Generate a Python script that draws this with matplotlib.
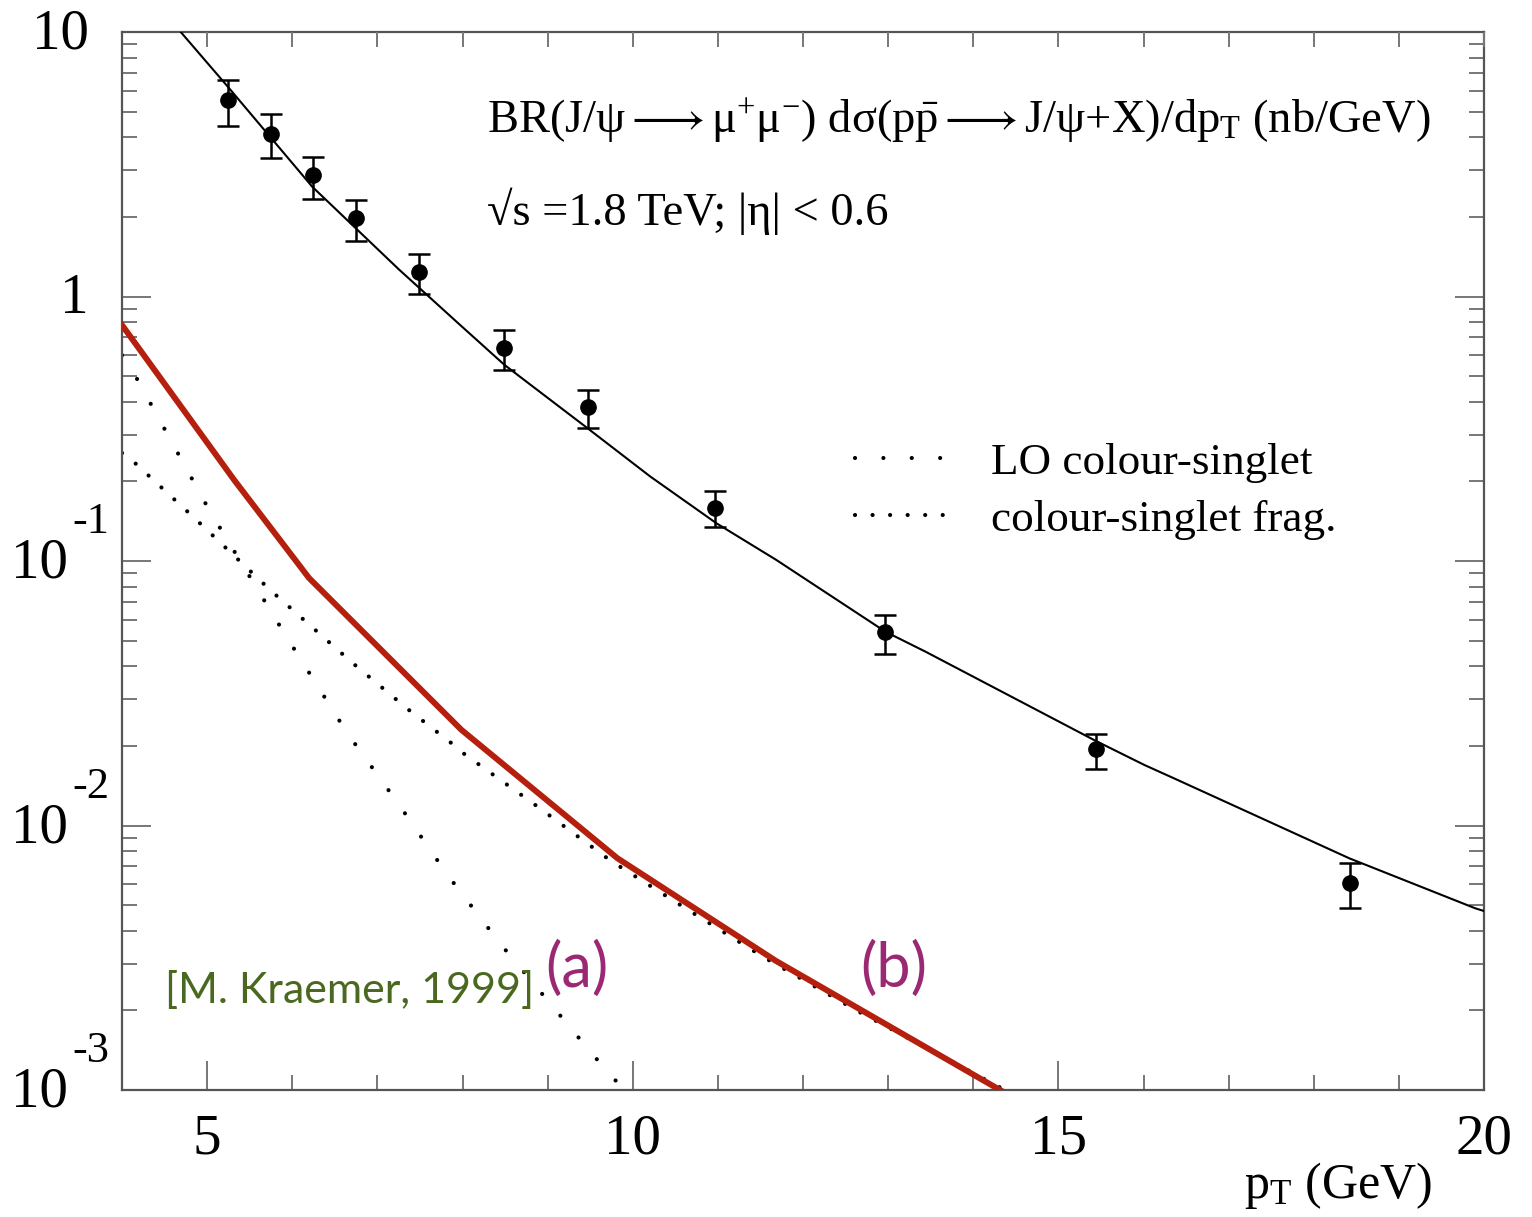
import numpy as np
import matplotlib
matplotlib.use("Agg")
import matplotlib.pyplot as plt

plt.rcParams['font.family'] = ['Liberation Serif', 'DejaVu Serif']
plt.rcParams['mathtext.fontset'] = 'custom'
plt.rcParams['mathtext.rm'] = 'Liberation Serif'
plt.rcParams['mathtext.it'] = 'Liberation Serif:italic'

# ---- data ----
data_pt = [5.25, 5.75, 6.24, 6.75, 7.49, 8.49, 9.48, 10.97, 12.96, 15.44, 18.43]
data_y = [5.53, 4.11, 2.88, 1.98, 1.24, 0.638, 0.382, 0.158, 0.054, 0.0195, 0.00604]
data_hi = [6.58, 4.90, 3.37, 2.32, 1.45, 0.746, 0.443, 0.184, 0.0625, 0.0222, 0.00719]
data_lo = [4.41, 3.34, 2.34, 1.62, 1.02, 0.527, 0.318, 0.135, 0.0445, 0.0164, 0.00486]

fit_pt = [4.69, 5.26, 6.235, 7.248, 7.95, 8.494, 9.467, 10.207, 10.986, 11.687,
          12.97, 13.44, 15.425, 16.01, 16.36, 18.42, 19.90, 20.0]
fit_y = [10.0, 6.12, 2.60, 1.27, 0.792, 0.551, 0.318, 0.2085, 0.1387, 0.1009,
         0.054, 0.0454, 0.0210, 0.01694, 0.01507, 0.00751, 0.00486, 0.00475]

red_pt = [4.0, 5.32, 6.196, 7.987, 9.82, 11.68, 14.5]
red_y = [0.780, 0.202, 0.0863, 0.0230, 0.00752, 0.00308, 0.000924]

lo_pt = [4.0, 4.043, 5.028, 5.916, 6.648, 7.249, 7.824, 8.448, 9.097, 9.54, 9.85]
lo_y = [0.60, 0.584, 0.155, 0.0527, 0.0223, 0.01205, 0.0065, 0.00356, 0.0020, 0.00135, 0.00104]

frag_pt = [4.0, 4.043, 4.825, 5.748, 6.703, 7.36, 7.86, 8.025, 8.883, 9.74, 10.64, 11.53, 12.64, 14.32]
frag_y = [0.256, 0.253, 0.148, 0.0773, 0.0413, 0.0275, 0.0206, 0.0186, 0.01178, 0.00736,
          0.00482, 0.00319, 0.00199, 0.00102]

x_major = [5, 10, 15, 20]
x_labels = ['5', '10', '15', '20']
y_decades = [1e-3, 1e-2, 1e-1, 1, 10]
y_exponents = ['-3', '-2', '-1', None, None]
y_plain = [None, None, None, '1', '10']

fig = plt.figure(figsize=(15.32, 12.17), dpi=100)
ax = fig.add_axes([122/1532, 1 - 1090/1217, (1484-122)/1532, (1090-32)/1217])
ax.set_yscale('log')
ax.set_xlim(4, 20)
ax.set_ylim(1e-3, 10)

# curves
ax.plot(fit_pt, fit_y, color='black', lw=1.5, zorder=3)
ax.plot(red_pt, red_y, color='#b5200e', lw=4.3, zorder=4, solid_joinstyle='miter')
lo_line, = ax.plot(lo_pt, lo_y, color='black', lw=3.0, linestyle=(0, (0.01, 6.8)),
                   dash_capstyle='round', zorder=2)
frag_line, = ax.plot(frag_pt, frag_y, color='black', lw=3.0, linestyle=(0, (0.01, 4.2)),
                     dash_capstyle='round', zorder=2)

yerr = [np.array(data_y) - np.array(data_lo), np.array(data_hi) - np.array(data_y)]
ax.errorbar(data_pt, data_y, yerr=yerr, fmt='o', color='black', ms=11, capsize=8,
            elinewidth=1.8, capthick=1.8, zorder=5)

# axes styling (ROOT-like)
for s in ax.spines.values():
    s.set_color('#555555')
    s.set_linewidth(1.6)
ax.set_xticks(x_major)
ax.set_xticklabels(x_labels)
ax.set_xticks(np.arange(4, 21, 1), minor=True)
ax.set_yticks(y_decades)
ax.set_yticklabels([''] * len(y_decades))
ax.tick_params(axis='x', which='both', direction='in', bottom=True, top=False,
               color='#777777', width=1.4, labelsize=41, pad=17)
ax.tick_params(axis='x', which='major', length=21)
ax.tick_params(axis='x', which='minor', length=10.5)
ax.tick_params(axis='y', which='both', direction='in', left=True, right=True,
               color='#777777', width=1.4)
ax.tick_params(axis='y', which='major', length=21)
ax.tick_params(axis='y', which='minor', length=10.5)

# top ticks: all short
axt = ax.twiny()
axt.set_xlim(4, 20)
axt.set_xticks(np.arange(5, 21, 1))
axt.set_xticklabels([])
axt.tick_params(axis='x', direction='in', length=10.5, color='#777777', width=1.4)
for s in axt.spines.values():
    s.set_visible(False)

# y tick labels ROOT style
for v, ex, pl in zip(y_decades, y_exponents, y_plain):
    if pl is not None:
        ax.annotate(pl, xy=(0, v), xycoords=('axes fraction', 'data'), xytext=(-24, -2),
                    textcoords='offset points', ha='right', va='center', fontsize=41)
    else:
        ax.annotate('10', xy=(0, v), xycoords=('axes fraction', 'data'), xytext=(-39, -2),
                    textcoords='offset points', ha='right', va='center', fontsize=41)
        ax.annotate(ex, xy=(0, v), xycoords=('axes fraction', 'data'), xytext=(-9, 28),
                    textcoords='offset points', ha='right', va='center', fontsize=32)

ax.set_xlabel(r'p$_{\rm T}$ (GeV)', fontsize=36)
ax.xaxis.set_label_coords(0.962, -0.066)
ax.xaxis.label.set_ha('right')

# annotations
ax.text(0.268, 0.9045,
        r'BR(J/ψ$\longrightarrow$μ$^{+}$μ$^{-}$) dσ(p$\bar{\rm p}$$\longrightarrow$J/ψ+X)/dp$_{\rm T}$ (nb/GeV)',
        transform=ax.transAxes, fontsize=33.5, ha='left', va='baseline')
ax.text(0.268, 0.8176, r'√s =1.8 TeV; |η| < 0.6', transform=ax.transAxes,
        fontsize=33.5, ha='left', va='baseline')

ax.legend([lo_line, frag_line], ['LO colour-singlet', 'colour-singlet frag.'],
          loc='upper left', bbox_to_anchor=(0.525, 0.629), frameon=False,
          fontsize=32.5, handlelength=2.2, handletextpad=0.8, labelspacing=0.35,
          borderaxespad=0)

ax.text(0.0316, 0.082, '[M. Kraemer, 1999]', transform=ax.transAxes,
        fontsize=31, color='#4a681f', family=['Lato', 'DejaVu Sans'],
        ha='left', va='baseline')
ax.text(0.3106, 0.097, '(a)', transform=ax.transAxes, fontsize=44,
        color='#9b2873', family=['Lato', 'DejaVu Sans'], ha='left', va='baseline')
ax.text(0.5419, 0.097, '(b)', transform=ax.transAxes, fontsize=44,
        color='#9b2873', family=['Lato', 'DejaVu Sans'], ha='left', va='baseline')

fig.savefig('out.png', dpi=100, facecolor='white')
